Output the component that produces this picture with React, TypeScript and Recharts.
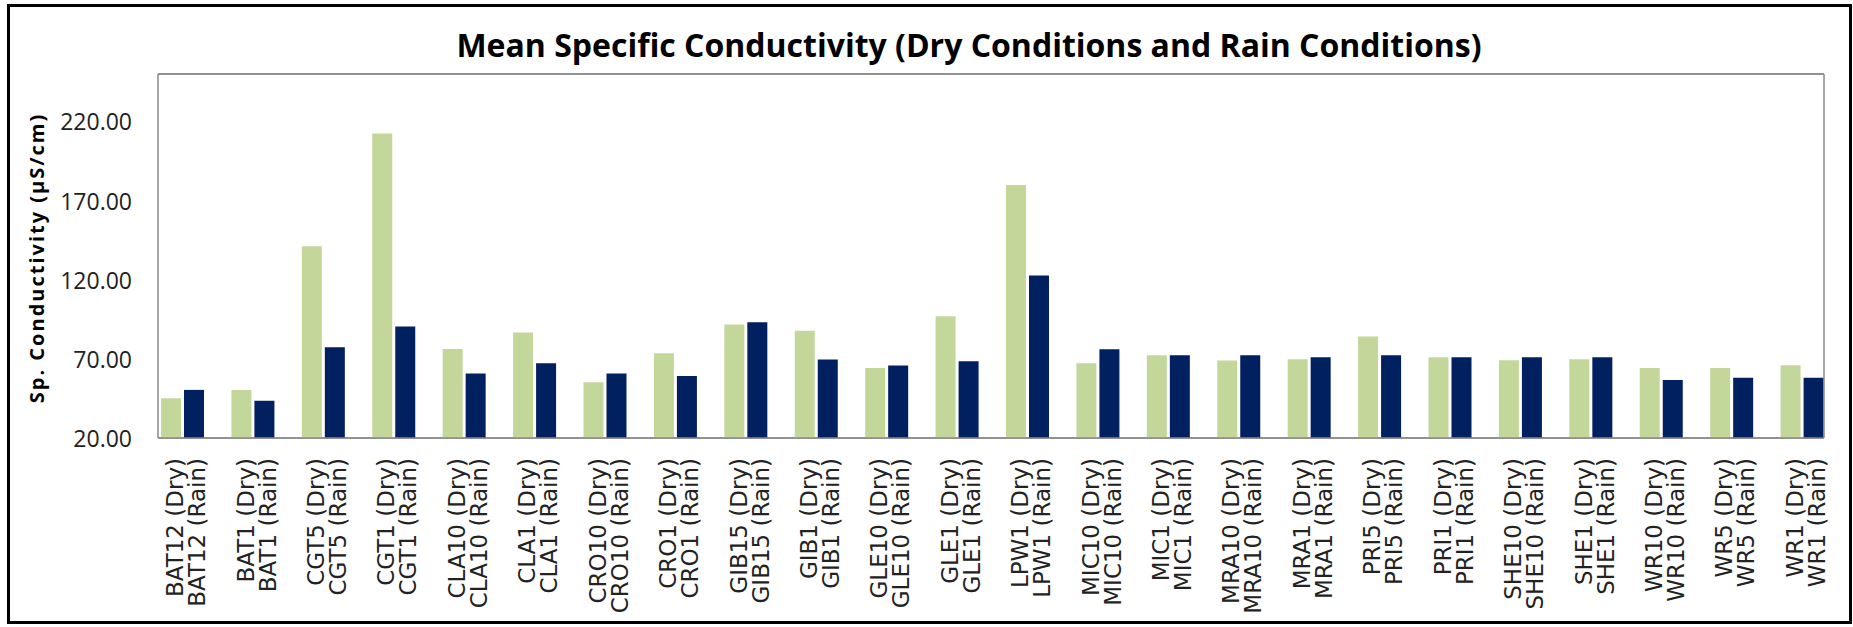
import React from 'react';
import { BarChart, Bar, XAxis, YAxis, CartesianGrid, ReferenceLine } from 'recharts';

const SITES = [
  'BAT12', 'BAT1', 'CGT5', 'CGT1', 'CLA10', 'CLA1', 'CRO10', 'CRO1', 'GIB15', 'GIB1', 'GLE10', 'GLE1',
  'LPW1', 'MIC10', 'MIC1', 'MRA10', 'MRA1', 'PRI5', 'PRI1', 'SHE10', 'SHE1', 'WR10', 'WR5', 'WR1',
];

const DRY = [
  45.1, 50.4, 141.1, 212.4, 76.3, 86.6, 55.3, 73.6, 91.7, 87.7, 64.3, 97.0,
  179.9, 67.3, 72.3, 68.9, 69.8, 84.1, 71.1, 69.2, 69.8, 64.3, 64.3, 66.0,
];

const RAIN = [
  50.4, 43.6, 77.4, 90.4, 60.7, 67.3, 60.7, 59.2, 93.2, 69.6, 65.8, 68.5,
  122.7, 76.1, 72.3, 72.3, 71.1, 72.3, 71.1, 71.1, 71.1, 56.7, 58.0, 58.0,
];

const Y_TICKS = [20, 70, 120, 170, 220];

const DRY_COLOR = '#c4d79b';
const RAIN_COLOR = '#002060';
const GRID = '#8a8a8a';

const data = SITES.map((site, i) => ({ site, dry: DRY[i], rain: RAIN[i] }));

const SiteTick = (props: any) => {
  const { x, y, payload } = props;
  return (
    <g transform={`translate(${x},${y + 20}) rotate(-90)`}>
      <text x={0} y={1} textAnchor="end" fontFamily="DejaVu Sans" fontSize={23} fill="#222">
        {`${payload.value} (Dry)`}
      </text>
      <text x={0} y={23} textAnchor="end" fontFamily="DejaVu Sans" fontSize={23} fill="#222">
        {`${payload.value} (Rain)`}
      </text>
    </g>
  );
};

const ValueTick = (props: any) => {
  const { y, payload } = props;
  return (
    <text x={132} y={y} textAnchor="end" dominantBaseline="central" fontFamily="Open Sans" fontSize={23} fill="#222">
      {payload.value.toFixed(2)}
    </text>
  );
};

export default function App() {
  return (
    <div style={{ position: 'absolute', left: 0, top: 0, width: 1853, height: 627, background: '#fff' }}>
      <div
        style={{
          position: 'absolute', left: 7, top: 4, width: 1845, height: 620,
          border: '3px solid #000', boxSizing: 'border-box',
        }}
      />
      <div
        style={{
          position: 'absolute', left: 969, top: 23, transform: 'translateX(-50%)', whiteSpace: 'nowrap',
          fontFamily: 'Open Sans', fontWeight: 700, fontSize: 32, lineHeight: '44px', color: '#000',
        }}
      >
        Mean Specific Conductivity (Dry Conditions and Rain Conditions)
      </div>
      <div
        style={{
          position: 'absolute', left: 36, top: 258, transform: 'translate(-50%, -50%) rotate(-90deg)',
          whiteSpace: 'nowrap', fontFamily: 'Open Sans', fontWeight: 700, fontSize: 20, letterSpacing: 2,
          color: '#000',
        }}
      >
        Sp. Conductivity (µS/cm)
      </div>
      <div style={{ position: 'absolute', left: 0, top: 0 }}>
        <BarChart
          width={1853}
          height={627}
          data={data}
          margin={{ top: 74, right: 27, bottom: 9, left: 58 }}
          barSize={20}
          barGap={3}
        >
          <CartesianGrid horizontal vertical={false} stroke={GRID} strokeWidth={1.5} />
          <XAxis
            dataKey="site"
            interval={0}
            height={180}
            tickLine={false}
            tickSize={0}
            tickMargin={0}
            padding={{ left: -11, right: -13 }}
            axisLine={{ stroke: GRID, strokeWidth: 1.5 }}
            tick={<SiteTick />}
          />
          <YAxis
            yAxisId="left"
            width={100}
            domain={[20, 250]}
            ticks={Y_TICKS}
            tickLine={false}
            axisLine={{ stroke: GRID, strokeWidth: 1.5 }}
            tick={<ValueTick />}
          />
          <YAxis
            yAxisId="right"
            orientation="right"
            width={2}
            domain={[20, 250]}
            ticks={Y_TICKS}
            tick={false}
            tickLine={false}
            axisLine={{ stroke: GRID, strokeWidth: 1.5 }}
          />
          <ReferenceLine yAxisId="left" y={250} stroke={GRID} strokeWidth={1.5} />
          <Bar yAxisId="left" dataKey="dry" fill={DRY_COLOR} isAnimationActive={false} />
          <Bar yAxisId="left" dataKey="rain" fill={RAIN_COLOR} isAnimationActive={false} />
        </BarChart>
      </div>
    </div>
  );
}
